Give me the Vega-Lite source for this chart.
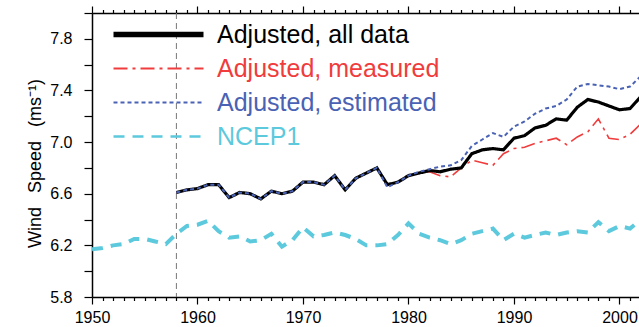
{
  "$schema": "https://vega.github.io/schema/vega-lite/v6.json",
  "width": 547,
  "height": 284,
  "autosize": "none",
  "padding": {"left": 92, "top": 13, "right": 0, "bottom": 30},
  "background": "white",
  "config": {
    "view": {"stroke": null},
    "font": "Liberation Sans",
    "axis": {"domainColor": "black", "tickColor": "black", "labelColor": "black", "titleColor": "black", "grid": false, "domainWidth": 1.5, "tickWidth": 1.2, "labelFont": "Liberation Sans", "titleFont": "Liberation Sans"}
  },
  "datasets": {
    "marker": [{"year": 1958}],
    "series": [
      {"year":1958,"series":"Adjusted, all data","speed":6.61},{"year":1959,"series":"Adjusted, all data","speed":6.63},{"year":1960,"series":"Adjusted, all data","speed":6.64},{"year":1961,"series":"Adjusted, all data","speed":6.67},{"year":1962,"series":"Adjusted, all data","speed":6.67},{"year":1963,"series":"Adjusted, all data","speed":6.57},{"year":1964,"series":"Adjusted, all data","speed":6.61},{"year":1965,"series":"Adjusted, all data","speed":6.60},{"year":1966,"series":"Adjusted, all data","speed":6.56},{"year":1967,"series":"Adjusted, all data","speed":6.62},{"year":1968,"series":"Adjusted, all data","speed":6.60},{"year":1969,"series":"Adjusted, all data","speed":6.62},{"year":1970,"series":"Adjusted, all data","speed":6.69},{"year":1971,"series":"Adjusted, all data","speed":6.69},{"year":1972,"series":"Adjusted, all data","speed":6.67},{"year":1973,"series":"Adjusted, all data","speed":6.74},{"year":1974,"series":"Adjusted, all data","speed":6.63},{"year":1975,"series":"Adjusted, all data","speed":6.72},{"year":1976,"series":"Adjusted, all data","speed":6.76},{"year":1977,"series":"Adjusted, all data","speed":6.80},{"year":1978,"series":"Adjusted, all data","speed":6.67},{"year":1979,"series":"Adjusted, all data","speed":6.69},{"year":1980,"series":"Adjusted, all data","speed":6.74},{"year":1981,"series":"Adjusted, all data","speed":6.76},{"year":1982,"series":"Adjusted, all data","speed":6.78},{"year":1983,"series":"Adjusted, all data","speed":6.77},{"year":1984,"series":"Adjusted, all data","speed":6.79},{"year":1985,"series":"Adjusted, all data","speed":6.80},{"year":1986,"series":"Adjusted, all data","speed":6.91},{"year":1987,"series":"Adjusted, all data","speed":6.94},{"year":1988,"series":"Adjusted, all data","speed":6.95},{"year":1989,"series":"Adjusted, all data","speed":6.94},{"year":1990,"series":"Adjusted, all data","speed":7.03},{"year":1991,"series":"Adjusted, all data","speed":7.05},{"year":1992,"series":"Adjusted, all data","speed":7.11},{"year":1993,"series":"Adjusted, all data","speed":7.13},{"year":1994,"series":"Adjusted, all data","speed":7.18},{"year":1995,"series":"Adjusted, all data","speed":7.17},{"year":1996,"series":"Adjusted, all data","speed":7.27},{"year":1997,"series":"Adjusted, all data","speed":7.33},{"year":1998,"series":"Adjusted, all data","speed":7.31},{"year":1999,"series":"Adjusted, all data","speed":7.28},{"year":2000,"series":"Adjusted, all data","speed":7.25},{"year":2001,"series":"Adjusted, all data","speed":7.26},{"year":2002,"series":"Adjusted, all data","speed":7.35},
      {"year":1958,"series":"Adjusted, measured","speed":6.61},{"year":1959,"series":"Adjusted, measured","speed":6.63},{"year":1960,"series":"Adjusted, measured","speed":6.64},{"year":1961,"series":"Adjusted, measured","speed":6.67},{"year":1962,"series":"Adjusted, measured","speed":6.67},{"year":1963,"series":"Adjusted, measured","speed":6.57},{"year":1964,"series":"Adjusted, measured","speed":6.61},{"year":1965,"series":"Adjusted, measured","speed":6.60},{"year":1966,"series":"Adjusted, measured","speed":6.56},{"year":1967,"series":"Adjusted, measured","speed":6.62},{"year":1968,"series":"Adjusted, measured","speed":6.60},{"year":1969,"series":"Adjusted, measured","speed":6.62},{"year":1970,"series":"Adjusted, measured","speed":6.69},{"year":1971,"series":"Adjusted, measured","speed":6.69},{"year":1972,"series":"Adjusted, measured","speed":6.67},{"year":1973,"series":"Adjusted, measured","speed":6.74},{"year":1974,"series":"Adjusted, measured","speed":6.63},{"year":1975,"series":"Adjusted, measured","speed":6.72},{"year":1976,"series":"Adjusted, measured","speed":6.76},{"year":1977,"series":"Adjusted, measured","speed":6.80},{"year":1978,"series":"Adjusted, measured","speed":6.67},{"year":1979,"series":"Adjusted, measured","speed":6.69},{"year":1980,"series":"Adjusted, measured","speed":6.74},{"year":1981,"series":"Adjusted, measured","speed":6.76},{"year":1982,"series":"Adjusted, measured","speed":6.77},{"year":1983,"series":"Adjusted, measured","speed":6.74},{"year":1984,"series":"Adjusted, measured","speed":6.73},{"year":1985,"series":"Adjusted, measured","speed":6.80},{"year":1986,"series":"Adjusted, measured","speed":6.86},{"year":1987,"series":"Adjusted, measured","speed":6.84},{"year":1988,"series":"Adjusted, measured","speed":6.82},{"year":1989,"series":"Adjusted, measured","speed":6.91},{"year":1990,"series":"Adjusted, measured","speed":6.95},{"year":1991,"series":"Adjusted, measured","speed":6.96},{"year":1992,"series":"Adjusted, measured","speed":6.99},{"year":1993,"series":"Adjusted, measured","speed":7.01},{"year":1994,"series":"Adjusted, measured","speed":7.03},{"year":1995,"series":"Adjusted, measured","speed":6.98},{"year":1996,"series":"Adjusted, measured","speed":7.04},{"year":1997,"series":"Adjusted, measured","speed":7.08},{"year":1998,"series":"Adjusted, measured","speed":7.18},{"year":1999,"series":"Adjusted, measured","speed":7.03},{"year":2000,"series":"Adjusted, measured","speed":7.02},{"year":2001,"series":"Adjusted, measured","speed":7.06},{"year":2002,"series":"Adjusted, measured","speed":7.14},
      {"year":1958,"series":"Adjusted, estimated","speed":6.61},{"year":1959,"series":"Adjusted, estimated","speed":6.63},{"year":1960,"series":"Adjusted, estimated","speed":6.64},{"year":1961,"series":"Adjusted, estimated","speed":6.67},{"year":1962,"series":"Adjusted, estimated","speed":6.67},{"year":1963,"series":"Adjusted, estimated","speed":6.57},{"year":1964,"series":"Adjusted, estimated","speed":6.61},{"year":1965,"series":"Adjusted, estimated","speed":6.60},{"year":1966,"series":"Adjusted, estimated","speed":6.56},{"year":1967,"series":"Adjusted, estimated","speed":6.62},{"year":1968,"series":"Adjusted, estimated","speed":6.60},{"year":1969,"series":"Adjusted, estimated","speed":6.62},{"year":1970,"series":"Adjusted, estimated","speed":6.69},{"year":1971,"series":"Adjusted, estimated","speed":6.69},{"year":1972,"series":"Adjusted, estimated","speed":6.67},{"year":1973,"series":"Adjusted, estimated","speed":6.74},{"year":1974,"series":"Adjusted, estimated","speed":6.63},{"year":1975,"series":"Adjusted, estimated","speed":6.72},{"year":1976,"series":"Adjusted, estimated","speed":6.76},{"year":1977,"series":"Adjusted, estimated","speed":6.80},{"year":1978,"series":"Adjusted, estimated","speed":6.65},{"year":1979,"series":"Adjusted, estimated","speed":6.69},{"year":1980,"series":"Adjusted, estimated","speed":6.74},{"year":1981,"series":"Adjusted, estimated","speed":6.77},{"year":1982,"series":"Adjusted, estimated","speed":6.79},{"year":1983,"series":"Adjusted, estimated","speed":6.81},{"year":1984,"series":"Adjusted, estimated","speed":6.82},{"year":1985,"series":"Adjusted, estimated","speed":6.86},{"year":1986,"series":"Adjusted, estimated","speed":6.97},{"year":1987,"series":"Adjusted, estimated","speed":7.02},{"year":1988,"series":"Adjusted, estimated","speed":7.07},{"year":1989,"series":"Adjusted, estimated","speed":7.04},{"year":1990,"series":"Adjusted, estimated","speed":7.12},{"year":1991,"series":"Adjusted, estimated","speed":7.16},{"year":1992,"series":"Adjusted, estimated","speed":7.22},{"year":1993,"series":"Adjusted, estimated","speed":7.26},{"year":1994,"series":"Adjusted, estimated","speed":7.28},{"year":1995,"series":"Adjusted, estimated","speed":7.33},{"year":1996,"series":"Adjusted, estimated","speed":7.43},{"year":1997,"series":"Adjusted, estimated","speed":7.45},{"year":1998,"series":"Adjusted, estimated","speed":7.44},{"year":1999,"series":"Adjusted, estimated","speed":7.43},{"year":2000,"series":"Adjusted, estimated","speed":7.41},{"year":2001,"series":"Adjusted, estimated","speed":7.43},{"year":2002,"series":"Adjusted, estimated","speed":7.51},
      {"year":1950,"series":"NCEP1","speed":6.17},{"year":1951,"series":"NCEP1","speed":6.18},{"year":1952,"series":"NCEP1","speed":6.20},{"year":1953,"series":"NCEP1","speed":6.21},{"year":1954,"series":"NCEP1","speed":6.25},{"year":1955,"series":"NCEP1","speed":6.25},{"year":1956,"series":"NCEP1","speed":6.23},{"year":1957,"series":"NCEP1","speed":6.21},{"year":1958,"series":"NCEP1","speed":6.29},{"year":1959,"series":"NCEP1","speed":6.35},{"year":1960,"series":"NCEP1","speed":6.36},{"year":1961,"series":"NCEP1","speed":6.39},{"year":1962,"series":"NCEP1","speed":6.31},{"year":1963,"series":"NCEP1","speed":6.26},{"year":1964,"series":"NCEP1","speed":6.27},{"year":1965,"series":"NCEP1","speed":6.23},{"year":1966,"series":"NCEP1","speed":6.24},{"year":1967,"series":"NCEP1","speed":6.29},{"year":1968,"series":"NCEP1","speed":6.19},{"year":1969,"series":"NCEP1","speed":6.24},{"year":1970,"series":"NCEP1","speed":6.34},{"year":1971,"series":"NCEP1","speed":6.27},{"year":1972,"series":"NCEP1","speed":6.28},{"year":1973,"series":"NCEP1","speed":6.30},{"year":1974,"series":"NCEP1","speed":6.28},{"year":1975,"series":"NCEP1","speed":6.25},{"year":1976,"series":"NCEP1","speed":6.20},{"year":1977,"series":"NCEP1","speed":6.20},{"year":1978,"series":"NCEP1","speed":6.21},{"year":1979,"series":"NCEP1","speed":6.28},{"year":1980,"series":"NCEP1","speed":6.37},{"year":1981,"series":"NCEP1","speed":6.29},{"year":1982,"series":"NCEP1","speed":6.26},{"year":1983,"series":"NCEP1","speed":6.24},{"year":1984,"series":"NCEP1","speed":6.21},{"year":1985,"series":"NCEP1","speed":6.24},{"year":1986,"series":"NCEP1","speed":6.29},{"year":1987,"series":"NCEP1","speed":6.31},{"year":1988,"series":"NCEP1","speed":6.33},{"year":1989,"series":"NCEP1","speed":6.24},{"year":1990,"series":"NCEP1","speed":6.29},{"year":1991,"series":"NCEP1","speed":6.26},{"year":1992,"series":"NCEP1","speed":6.28},{"year":1993,"series":"NCEP1","speed":6.30},{"year":1994,"series":"NCEP1","speed":6.28},{"year":1995,"series":"NCEP1","speed":6.30},{"year":1996,"series":"NCEP1","speed":6.31},{"year":1997,"series":"NCEP1","speed":6.30},{"year":1998,"series":"NCEP1","speed":6.38},{"year":1999,"series":"NCEP1","speed":6.31},{"year":2000,"series":"NCEP1","speed":6.35},{"year":2001,"series":"NCEP1","speed":6.33},{"year":2002,"series":"NCEP1","speed":6.40}
    ]
  },
  "layer": [
    {
      "data": {"name": "marker"},
      "mark": {"type": "rule", "color": "#777777", "strokeWidth": 1, "strokeDash": [6, 4]},
      "encoding": {
        "x": {
          "field": "year", "type": "quantitative",
          "scale": {"domain": [1950, 2001.85], "nice": false, "zero": false},
          "axis": {
            "orient": "bottom", "title": null,
            "values": [1950,1951,1952,1953,1954,1955,1956,1957,1958,1959,1960,1961,1962,1963,1964,1965,1966,1967,1968,1969,1970,1971,1972,1973,1974,1975,1976,1977,1978,1979,1980,1981,1982,1983,1984,1985,1986,1987,1988,1989,1990,1991,1992,1993,1994,1995,1996,1997,1998,1999,2000,2001],
            "labelExpr": "datum.value % 10 === 0 ? datum.label : ''",
            "format": "d",
            "tickSize": {"condition": {"test": "datum.value % 10 === 0", "value": 7}, "value": 3.5},
            "labelFontSize": 16, "labelPadding": 5, "labelFlush": false, "labelOverlap": false
          }
        }
      }
    },
    {
      "data": {"name": "series"},
      "encoding": {
        "x": {
          "field": "year", "type": "quantitative",
          "scale": {"domain": [1950, 2001.85], "nice": false, "zero": false},
          "axis": {
            "orient": "top", "title": null, "labels": false,
            "values": [1950,1951,1952,1953,1954,1955,1956,1957,1958,1959,1960,1961,1962,1963,1964,1965,1966,1967,1968,1969,1970,1971,1972,1973,1974,1975,1976,1977,1978,1979,1980,1981,1982,1983,1984,1985,1986,1987,1988,1989,1990,1991,1992,1993,1994,1995,1996,1997,1998,1999,2000,2001],
            "tickSize": {"condition": {"test": "datum.value % 10 === 0", "value": 7}, "value": 3.5}
          }
        },
        "y": {
          "field": "speed", "type": "quantitative",
          "scale": {"domain": [5.8, 8.0], "nice": false, "zero": false},
          "axis": {
            "values": [5.8, 6.0, 6.2, 6.4, 6.6, 6.8, 7.0, 7.2, 7.4, 7.6, 7.8, 8.0],
            "labelExpr": "round(datum.value * 10) % 4 === 2 ? format(datum.value, '.1f') : ''",
            "tickSize": 8, "labelPadding": 12, "labelFontSize": 16,
            "title": "Wind\u2002 Speed\u2002 (ms⁻¹)", "titleFontSize": 18, "titleFontWeight": "normal",
            "titleAngle": -90, "titleBaseline": "alphabetic", "titleX": -52, "titleY": 150
          }
        },
        "color": {
          "field": "series", "type": "nominal",
          "scale": {"domain": ["Adjusted, all data", "Adjusted, measured", "Adjusted, estimated", "NCEP1"], "range": ["#000000", "#f03c3c", "#4a62b4", "#5cc9dd"]},
          "legend": {
            "orient": "none", "legendX": 54, "legendY": 9, "title": null, "padding": 0,
            "symbolType": "M-9,0H9", "symbolSize": 100, "labelFontSize": 25, "labelFont": "Liberation Sans",
            "labelOffset": 46, "rowPadding": 8, "labelLimit": 0,
            "encode": {
              "labels": {"update": {"fill": {"scale": "color", "field": "value"}}},
              "symbols": {"update": {"strokeWidth": {"signal": "datum.value === 'Adjusted, all data' ? 5.5 : datum.value === 'NCEP1' ? 2.5 : 2"}, "fill": {"value": "transparent"}}}
            }
          }
        },
        "strokeDash": {
          "field": "series", "type": "nominal",
          "scale": {"domain": ["Adjusted, all data", "Adjusted, measured", "Adjusted, estimated", "NCEP1"], "range": [[1, 0], [14, 5, 3, 5], [4, 3], [11, 8]]},
          "legend": null
        }
      },
      "layer": [
        {"transform": [{"filter": "datum.series === 'NCEP1'"}], "mark": {"type": "line", "clip": true, "strokeWidth": 4}},
        {"transform": [{"filter": "datum.series === 'Adjusted, measured'"}], "mark": {"type": "line", "clip": true, "strokeWidth": 1.6}},
        {"transform": [{"filter": "datum.series === 'Adjusted, all data'"}], "mark": {"type": "line", "clip": true, "strokeWidth": 3.2}},
        {"transform": [{"filter": "datum.series === 'Adjusted, estimated'"}], "mark": {"type": "line", "clip": true, "strokeWidth": 2}}
      ]
    }
  ],
  "resolve": {"axis": {"x": "independent"}}
}
